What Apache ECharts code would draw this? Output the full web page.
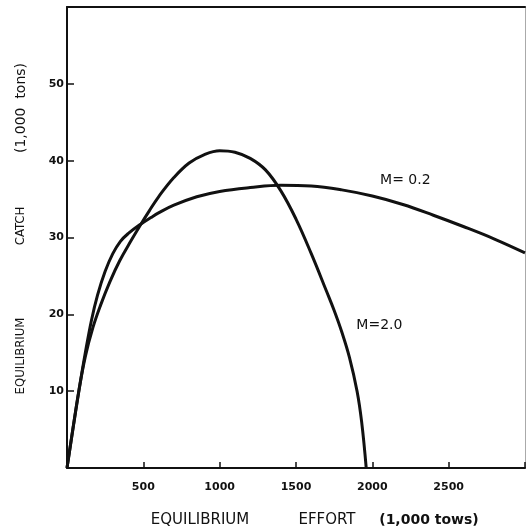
<!DOCTYPE html>
<html>
<head>
<meta charset="utf-8">
<script src="https://cdn.jsdelivr.net/npm/echarts@6/dist/echarts.min.js"></script>
<style>html,body{margin:0;padding:0;background:#fff;}#c{width:528px;height:529px;}</style>
</head>
<body>
<div id="c"></div>
<script>
// Equilibrium effort (1,000 tows) and catch (1,000 tons)
const effortM02 = [0, 40, 80, 120, 160, 200, 250, 300, 350, 400, 480, 550, 600, 700, 850, 1000, 1200, 1400, 1600, 1800, 2000, 2200, 2400, 2600, 2800, 3000];
const catchM02  = [0, 5.2, 10.3, 15.0, 19.2, 22.5, 25.6, 27.9, 29.5, 30.5, 31.7, 32.6, 33.2, 34.2, 35.3, 36, 36.5, 36.8, 36.7, 36.2, 35.4, 34.3, 32.9, 31.4, 29.8, 28];
const effortM20 = [0, 40, 80, 120, 170, 220, 280, 346, 420, 480, 540, 600, 700, 800, 900, 1000, 1100, 1200, 1300, 1400, 1500, 1600, 1700, 1750, 1800, 1850, 1900, 1930, 1960];
const catchM20  = [0, 5.3, 10.3, 14.5, 18.3, 21.2, 24.2, 27.0, 29.6, 31.6, 33.5, 35.3, 37.8, 39.7, 40.8, 41.3, 41.1, 40.3, 38.8, 36.1, 32.4, 27.9, 23.0, 20.5, 17.7, 14.4, 10.0, 6.0, 0];
const xTicks = [500, 1000, 1500, 2000, 2500];
const yTicks = [10, 20, 30, 40, 50];
const curveLabels = [
  { name: 'M= 0.2', coord: [2216, 37.5] },
  { name: 'M=2.0', coord: [2046, 18.5] }
];

const pairs = (xs, ys) => xs.map((x, i) => [x, ys[i]]);
const chart = echarts.init(document.getElementById('c'));
const xFont = '15px DejaVu Sans';
const yFont = '13px DejaVu Sans Condensed, DejaVu Sans';

chart.setOption({
  backgroundColor: '#fff',
  animation: false,
  grid: { left: 67, right: 2, top: 7, bottom: 61, show: false },
  xAxis: [{
    type: 'value', min: 0, max: 3000, interval: 500,
    axisLine: { show: true, onZero: false, lineStyle: { color: '#111', width: 2 } },
    axisTick: { show: true, inside: true, length: 6, lineStyle: { color: '#111', width: 1.5 } },
    axisLabel: { margin: 14, fontSize: 11, color: '#111', fontFamily: 'DejaVu Sans', fontWeight: 'bold',
      formatter: v => xTicks.includes(v) ? String(v) : '' },
    splitLine: { show: false }
  }, {
    type: 'value', position: 'top', min: 0, max: 3000,
    axisLine: { show: true, onZero: false, lineStyle: { color: '#111', width: 2 } },
    axisTick: { show: false }, axisLabel: { show: false }, splitLine: { show: false }
  }],
  yAxis: [{
    type: 'value', min: 0, max: 60, interval: 10,
    axisLine: { show: true, onZero: false, lineStyle: { color: '#111', width: 2 } },
    axisTick: { show: true, inside: true, length: 7, lineStyle: { color: '#111', width: 1.5 } },
    axisLabel: { margin: 3, fontSize: 11, color: '#111', fontFamily: 'DejaVu Sans', fontWeight: 'bold',
      formatter: v => yTicks.includes(v) ? String(v) : '' },
    splitLine: { show: false }
  }, {
    type: 'value', position: 'right', min: 0, max: 60,
    axisLine: { show: true, onZero: false, lineStyle: { color: '#aaa', width: 1 } },
    axisTick: { show: false }, axisLabel: { show: false }, splitLine: { show: false }
  }],
  graphic: [
    { type: 'text', x: 200, y: 520, style: { text: 'EQUILIBRIUM', font: xFont, fill: '#111', textAlign: 'center', textVerticalAlign: 'middle' } },
    { type: 'text', x: 327, y: 520, style: { text: 'EFFORT', font: xFont, fill: '#111', textAlign: 'center', textVerticalAlign: 'middle' } },
    { type: 'text', x: 429, y: 520, style: { text: '(1,000 tows)', font: 'bold 14px DejaVu Sans', fill: '#111', textAlign: 'center', textVerticalAlign: 'middle' } },
    { type: 'text', x: 21, y: 356, rotation: Math.PI / 2, style: { text: 'EQUILIBRIUM', font: yFont, fill: '#111', textAlign: 'center', textVerticalAlign: 'middle' } },
    { type: 'text', x: 21, y: 226, rotation: Math.PI / 2, style: { text: 'CATCH', font: yFont, fill: '#111', textAlign: 'center', textVerticalAlign: 'middle' } },
    { type: 'text', x: 21, y: 108, rotation: Math.PI / 2, style: { text: '(1,000  tons)', font: '14px DejaVu Sans', fill: '#111', textAlign: 'center', textVerticalAlign: 'middle' } }
  ],
  series: [{
    name: 'M=0.2', type: 'line', smooth: 0.4, showSymbol: false,
    data: pairs(effortM02, catchM02),
    lineStyle: { color: '#111', width: 3 },
    markPoint: {
      symbolSize: 0,
      label: { show: true, position: 'inside', formatter: '{b}', color: '#111', fontSize: 14, fontFamily: 'DejaVu Sans' },
      data: [{ name: curveLabels[0].name, coord: curveLabels[0].coord }]
    }
  }, {
    name: 'M=2.0', type: 'line', smooth: 0.4, showSymbol: false,
    data: pairs(effortM20, catchM20),
    lineStyle: { color: '#111', width: 3 },
    markPoint: {
      symbolSize: 0,
      label: { show: true, position: 'inside', formatter: '{b}', color: '#111', fontSize: 14, fontFamily: 'DejaVu Sans' },
      data: [{ name: curveLabels[1].name, coord: curveLabels[1].coord }]
    }
  }]
});
</script>
</body>
</html>
